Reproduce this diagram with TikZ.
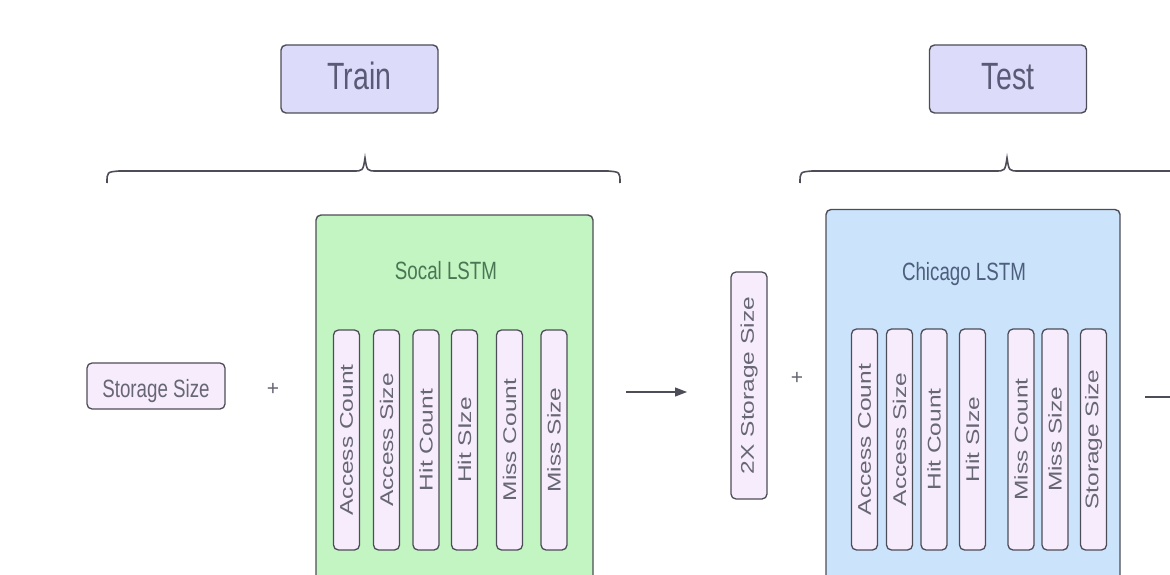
\documentclass[tikz,border=0pt]{standalone}
\usepackage{fontspec}
\setmainfont{Liberation Sans}
\usetikzlibrary{arrows.meta}
\definecolor{bordc}{HTML}{4D4D57}
\definecolor{lavfill}{HTML}{DCDCFA}
\definecolor{barfill}{HTML}{F7ECFC}
\definecolor{greenfill}{HTML}{C3F5C3}
\definecolor{bluefill}{HTML}{CCE3FC}
\definecolor{txtgray}{HTML}{666674}
\definecolor{titletxt}{HTML}{5A5A76}
\definecolor{greentxt}{HTML}{4A7654}
\definecolor{bluetxt}{HTML}{4C5F7C}
\newcommand{\myH}[2]{\scalebox{0.75}[1]{\fontsize{#1}{#1}\selectfont #2}}
\newcommand{\myV}[1]{\scalebox{0.75}[1]{\rotatebox{90}{\fontsize{24.5}{25}\selectfont #1}}}
\begin{document}
\begin{tikzpicture}[x=1pt,y=-1pt,
  titlebox/.style={draw=bordc,fill=lavfill,line width=1.4pt,rounded corners=5pt,minimum width=157pt,minimum height=68pt,inner sep=0pt},
  barbox/.style={draw=bordc,fill=barfill,line width=1.3pt,rounded corners=5pt,minimum width=26pt,minimum height=220pt,inner sep=0pt,text=txtgray},
  bigbox/.style={draw=bordc,line width=1.4pt,rounded corners=5pt,inner sep=0pt},
  brace/.style={draw=bordc,line width=1.6pt},
  conn/.style={draw=bordc,line width=1.2pt,-{Triangle[length=12pt,width=9pt]}},
  plus/.style={text=txtgray,inner sep=0pt}]
\clip (0,0) rectangle (1170,575);
\fill[white] (0,0) rectangle (1170,575);

% title boxes
\node[titlebox] (train) at (359.5,79) {};
\node[anchor=base,text=titletxt,inner sep=0pt] (traintxt) at (359.5,90) {\myH{38}{Train}};
\node[titlebox] (test) at (1008,79) {};
\node[anchor=base,text=titletxt,inner sep=0pt] (testtxt) at (1008,90) {\myH{38}{Test}};

% braces
\draw[brace] (107,183) .. controls (107,172) .. (119,171) -- (353,171) .. controls (363,171) .. (365,158) .. controls (367,171) .. (377,171) -- (608,171) .. controls (620,172) .. (620,183);
\draw[brace] (800,183) .. controls (800,172) .. (812,171) -- (995,171) .. controls (1005,171) .. (1007,158) .. controls (1009,171) .. (1019,171) -- (1175,171);

% left input
\node[draw=bordc,fill=barfill,line width=1.3pt,rounded corners=5pt,minimum width=138pt,minimum height=46pt,inner sep=0pt] (ss) at (156,386) {};
\node[anchor=base,text=txtgray,inner sep=0pt] (sstxt) at (156,397) {\myH{25}{Storage Size}};
\node[plus] (plus1) at (273,389) {\fontsize{21}{21}\selectfont +};

% Socal LSTM
\node[bigbox,fill=greenfill,minimum width=277pt,minimum height=400pt] (socal) at (454.5,415) {};
\node[anchor=base,text=greentxt,inner sep=0pt] (socaltxt) at (446,279) {\myH{25}{Socal LSTM}};
\node[barbox] (s1) at (346.5,440) {\myV{Access Count}};
\node[barbox] (s2) at (386.5,440) {\myV{Access Size}};
\node[barbox] (s3) at (426,440) {\myV{Hit Count}};
\node[barbox] (s4) at (464.5,440) {\myV{Hit SIze}};
\node[barbox] (s5) at (509.5,440) {\myV{Miss Count}};
\node[barbox] (s6) at (554,440) {\myV{Miss Size}};

% arrow 1
\coordinate (a1s) at (626,392);
\coordinate (a1e) at (687,392);
\draw[conn] (a1s) -- (a1e);

% 2X storage
\node[barbox,minimum width=36pt,minimum height=227pt] (ss2) at (749,385.5) {\myV{2X Storage Size}};
\node[plus] (plus2) at (797,378) {\fontsize{21}{21}\selectfont +};

% Chicago LSTM
\node[bigbox,fill=bluefill,minimum width=294pt,minimum height=400pt] (chi) at (973,409.5) {};
\node[anchor=base,text=bluetxt,inner sep=0pt] (chitxt) at (964,280) {\myH{25}{Chicago LSTM}};
\node[barbox,minimum height=221pt] (c1) at (864.5,439.5) {\myV{Access Count}};
\node[barbox,minimum height=221pt] (c2) at (899.5,439.5) {\myV{Access Size}};
\node[barbox,minimum height=221pt] (c3) at (934,439.5) {\myV{Hit Count}};
\node[barbox,minimum height=221pt] (c4) at (972.5,439.5) {\myV{Hit SIze}};
\node[barbox,minimum height=221pt] (c5) at (1021,439.5) {\myV{Miss Count}};
\node[barbox,minimum height=221pt] (c6) at (1055,439.5) {\myV{Miss Size}};
\node[barbox,minimum height=221pt] (c7) at (1093.5,439.5) {\myV{Storage Size}};

% arrow 2
\coordinate (a2s) at (1145,397);
\coordinate (a2e) at (1210,397);
\draw[conn] (a2s) -- (a2e);
\end{tikzpicture}
\end{document}
